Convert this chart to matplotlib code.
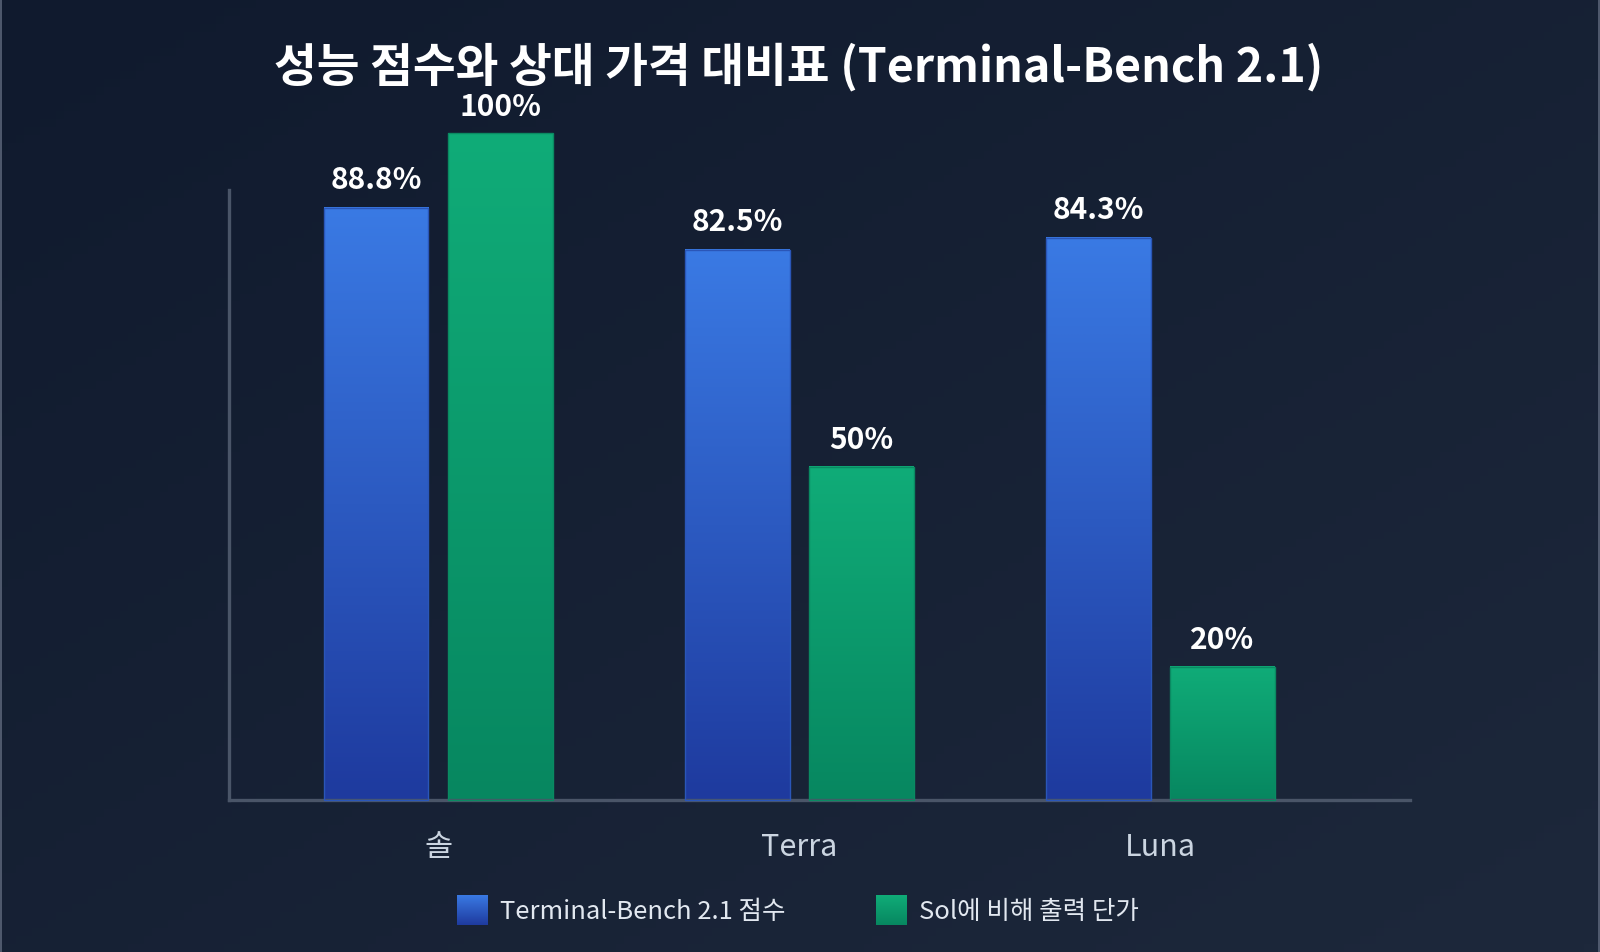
import matplotlib
matplotlib.use("Agg")
import matplotlib.pyplot as plt
import numpy as np
from matplotlib.colors import LinearSegmentedColormap

plt.rcParams['font.family'] = ['Noto Sans CJK KR', 'DejaVu Sans']

# data
categories = ['솔', 'Terra', 'Luna']
scores = [88.8, 82.5, 84.3]
prices = [100, 50, 20]
score_labels = ['88.8%', '82.5%', '84.3%']
price_labels = ['100%', '50%', '20%']
series_names = ['Terminal-Bench 2.1 점수', 'Sol에 비해 출력 단가']
title = '성능 점수와 상대 가격 대비표 (Terminal-Bench 2.1)'

blue_cmap = LinearSegmentedColormap.from_list('b', ['#1e3a9e', '#3a7ae4'])
green_cmap = LinearSegmentedColormap.from_list('g', ['#078760', '#10ac78'])

fig = plt.figure(figsize=(16, 9.52), dpi=100)

# background gradient (diagonal, dark top-left -> lighter bottom-right)
bg = fig.add_axes([0, 0, 1, 1], zorder=-10)
xx, yy = np.meshgrid(np.linspace(0, 1, 200), np.linspace(0, 1, 120))
t = (xx + yy) / 2
bg_cmap = LinearSegmentedColormap.from_list('bg', ['#101a2e', '#1d283b'])
bg.imshow(t, cmap=bg_cmap, aspect='auto', extent=(0, 1, 0, 1), origin='upper')
bg.set_xlim(0, 1)
bg.set_ylim(0, 1)
bg.axis('off')
# thin side borders
bg.axvline(0.0006, color='#5a6478', lw=1.2)
bg.axvline(0.9994, color='#5a6478', lw=1.2)

ax = fig.add_axes([0.143, 0.1597, 0.738, 0.6408])
ax.patch.set_alpha(0)

x = np.arange(len(categories))
w = 0.29
off = 0.172
grad = np.linspace(0, 1, 256).reshape(-1, 1)


def gradient_bars(xs, vals, cmap, edge):
    for xi, v in zip(xs, vals):
        ax.imshow(grad, cmap=cmap, aspect='auto', origin='lower',
                  extent=(xi - w / 2, xi + w / 2, 0, v), clip_on=False,
                  interpolation='bicubic', zorder=2)
    ax.bar(xs, vals, width=w, facecolor='none', edgecolor=edge,
           linewidth=1, zorder=3, clip_on=False)


gradient_bars(x - off, scores, blue_cmap, '#2a56b8')
gradient_bars(x + off, prices, green_cmap, '#0a8a62')

for xi, v, lab in zip(x - off, scores, score_labels):
    ax.annotate(lab, (xi, v), xytext=(0, 20), textcoords='offset points',
                ha='center', va='center', color='white', fontsize=21.5,
                fontweight='bold', annotation_clip=False)
for xi, v, lab in zip(x + off, prices, price_labels):
    ax.annotate(lab, (xi, v), xytext=(0, 19), textcoords='offset points',
                ha='center', va='center', color='white', fontsize=21.5,
                fontweight='bold', annotation_clip=False)

ax.set_xlim(-0.58, 2.69)
ax.set_ylim(0, 91.5)
ax.set_xticks(x)
ax.set_xticklabels(categories, fontsize=22, color='#cbd5e1')
ax.tick_params(axis='x', length=0, pad=23)
ax.set_yticks([])
for s in ['top', 'right']:
    ax.spines[s].set_visible(False)
for s in ['left', 'bottom']:
    ax.spines[s].set_color('#4a5568')
    ax.spines[s].set_linewidth(2.4)

fig.text(0.499, 0.929, title, ha='center', va='center', color='white',
         fontsize=33.5, fontweight='bold')

# legend
leg_items = [(0.2856, blue_cmap, series_names[0]),
             (0.5475, green_cmap, series_names[1])]
for lx, cmap, name in leg_items:
    la = fig.add_axes([lx, 1 - 925 / 952, 31 / 1600, 30 / 952])
    la.imshow(grad, cmap=cmap, aspect='auto', origin='lower')
    la.axis('off')
    fig.text(lx + 43 / 1600, 1 - 912 / 952, name, ha='left', va='center',
             color='#e2e8f0', fontsize=18.4)

fig.savefig('out.png', dpi=100)
